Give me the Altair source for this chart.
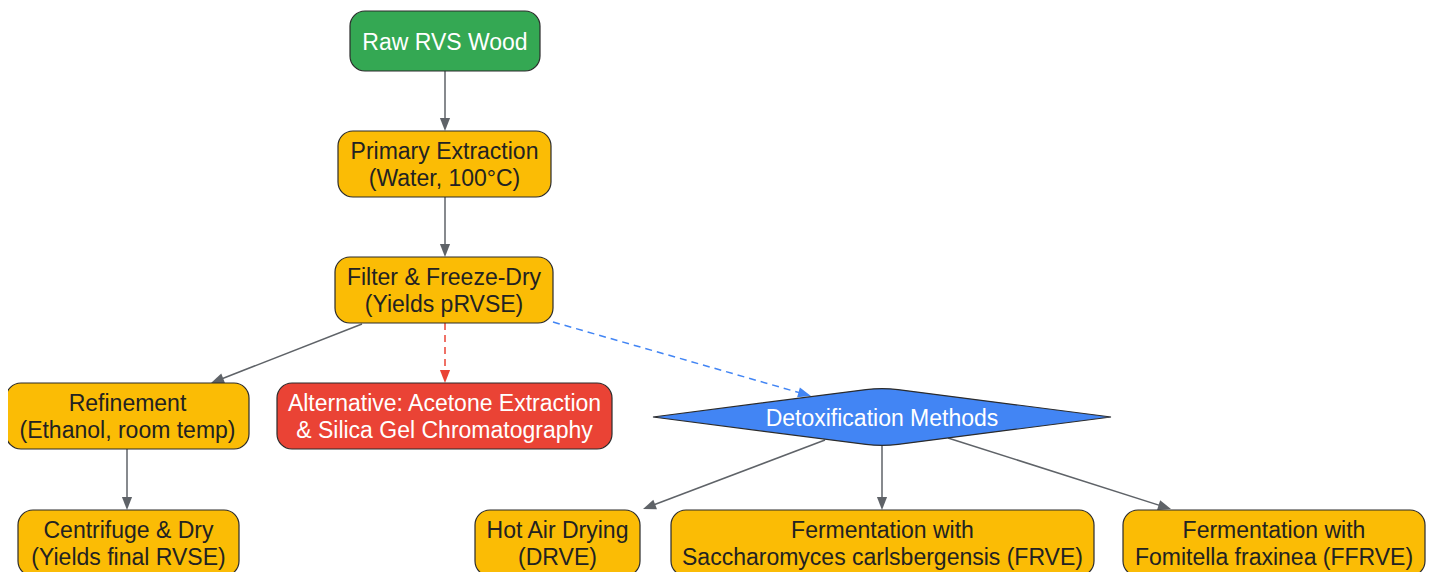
import math
import altair as alt
import pandas as pd

# ---------------- data ----------------
node_labels = [
    "Raw RVS Wood",
    "Primary Extraction\n(Water, 100°C)",
    "Filter & Freeze-Dry\n(Yields pRVSE)",
    "Refinement\n(Ethanol, room temp)",
    "Alternative: Acetone Extraction\n& Silica Gel Chromatography",
    "Centrifuge & Dry\n(Yields final RVSE)",
    "Hot Air Drying\n(DRVE)",
    "Fermentation with\nSaccharomyces carlsbergensis (FRVE)",
    "Fermentation with\nFomitella fraxinea (FFRVE)",
]
node_kind = ["start", "step", "step", "step", "alt", "step", "step", "step", "step"]
node_left = [350, 338, 335, 6, 277, 18, 475, 671, 1123]
node_right = [540, 551, 553, 249, 612, 239, 640, 1094, 1425]
node_top = [11, 131, 257, 383, 383, 510, 510, 510, 510]
node_bottom = [71, 197, 323, 449, 449, 576, 576, 576, 576]

decision_label = ["Detoxification Methods"]
decision_cx = [882]
decision_cy = [417]

edge_x1 = [445, 445, 362, 445, 553, 127, 825, 882, 948]
edge_y1 = [71, 197, 324, 323, 322, 449, 440, 446, 438]
edge_x2 = [445, 445, 211, 445, 811, 127, 643, 882, 1171]
edge_y2 = [131, 257, 383, 383, 396, 510, 509, 510, 509]
edge_kind = ["main", "main", "main", "alt", "detox", "main", "main", "main", "main"]

# ---------------- styles ----------------
FILL = {"start": "#34A853", "step": "#FBBC05", "alt": "#EA4335", "decision": "#4285F4"}
TEXT = {"start": "#ffffff", "step": "#222222", "alt": "#ffffff", "decision": "#ffffff"}
EDGE = {"main": "#5f6368", "alt": "#EA4335", "detox": "#4285F4"}
FONT = "Liberation Sans"
FS = 23
LH = 26.5
ARROW_R = 6.5  # half length of arrow head in px

nodes = pd.DataFrame({
    "label": node_labels, "kind": node_kind,
    "x1": node_left, "x2": node_right, "y1": node_top, "y2": node_bottom,
})
nodes["cx"] = (nodes.x1 + nodes.x2) / 2
nodes["cy"] = (nodes.y1 + nodes.y2) / 2
nodes["nl"] = nodes.label.str.count("\n") + 1
nodes["ty"] = nodes.cy + 1.5 - (nodes.nl - 1) * LH / 2

dec = pd.DataFrame({"label": decision_label, "cx": decision_cx, "cy": decision_cy})
dec["ty"] = dec.cy + 1.5

rows = []
for x1, y1, x2, y2, k in zip(edge_x1, edge_y1, edge_x2, edge_y2, edge_kind):
    dx, dy = x2 - x1, y2 - y1
    L = math.hypot(dx, dy)
    ux, uy = dx / L, dy / L
    ang = (math.degrees(math.atan2(dx, -dy)) + 360) % 360
    rows.append({
        "x1": x1, "y1": y1,
        "lx2": x2 - ux * ARROW_R * 1.6, "ly2": y2 - uy * ARROW_R * 1.6,
        "ax": x2 - ux * ARROW_R, "ay": y2 - uy * ARROW_R,
        "angle": ang, "kind": k,
    })
edges = pd.DataFrame(rows)

W, H = 1418, 564
xs = alt.Scale(domain=[8, 8 + W], nice=False, zero=False)
ys = alt.Scale(domain=[8, 8 + H], nice=False, zero=False, reverse=True)

fill_scale = alt.Scale(domain=list(FILL.keys()), range=list(FILL.values()))
text_scale = alt.Scale(domain=list(TEXT.keys()), range=list(TEXT.values()))
edge_scale = alt.Scale(domain=list(EDGE.keys()), range=list(EDGE.values()))

base_e = alt.Chart(edges)
lines_main = base_e.transform_filter(alt.datum.kind == "main").mark_rule(strokeWidth=1.5).encode(
    x=alt.X("x1:Q", scale=xs, axis=None), y=alt.Y("y1:Q", scale=ys, axis=None),
    x2="lx2:Q", y2="ly2:Q",
    color=alt.Color("kind:N", scale=edge_scale, legend=None),
)
lines_dash = base_e.transform_filter(alt.datum.kind != "main").mark_rule(strokeWidth=1.5, strokeDash=[7, 5]).encode(
    x=alt.X("x1:Q", scale=xs, axis=None), y=alt.Y("y1:Q", scale=ys, axis=None),
    x2="lx2:Q", y2="ly2:Q",
    color=alt.Color("kind:N", scale=edge_scale, legend=None),
)
arrows = base_e.mark_point(
    shape="M0,-1 L0.78,1 L-0.78,1 Z", filled=True, opacity=1, size=(2 * ARROW_R) ** 2,
).encode(
    x=alt.X("ax:Q", scale=xs, axis=None), y=alt.Y("ay:Q", scale=ys, axis=None),
    angle=alt.Angle("angle:Q", scale=None),
    color=alt.Color("kind:N", scale=edge_scale, legend=None),
)

boxes = alt.Chart(nodes).mark_rect(cornerRadius=15, stroke="#2b2b2b", strokeWidth=1.2).encode(
    x=alt.X("x1:Q", scale=xs, axis=None), x2="x2:Q",
    y=alt.Y("y1:Q", scale=ys, axis=None), y2="y2:Q",
    fill=alt.Fill("kind:N", scale=fill_scale, legend=None),
)
box_text = alt.Chart(nodes).mark_text(
    font=FONT, fontSize=FS, lineBreak="\n", lineHeight=LH, align="center", baseline="middle",
).encode(
    x=alt.X("cx:Q", scale=xs, axis=None), y=alt.Y("ty:Q", scale=ys, axis=None),
    text="label:N",
    color=alt.Color("kind:N", scale=text_scale, legend=None),
)

DR = 229
hy = 29.5 / DR
diamond_path = (
    f"M-1,0 L-0.07,{-hy*0.93:.4f} Q0,{-hy:.4f} 0.07,{-hy*0.93:.4f} L1,0 "
    f"L0.07,{hy*0.93:.4f} Q0,{hy:.4f} -0.07,{hy*0.93:.4f} Z"
)
diamond = alt.Chart(dec).mark_point(
    shape=diamond_path, filled=True, opacity=1, size=(2 * DR) ** 2,
    stroke="#2b2b2b", strokeWidth=1.2, fill="#4285F4",
).encode(
    x=alt.X("cx:Q", scale=xs, axis=None), y=alt.Y("cy:Q", scale=ys, axis=None),
)
dec_text = alt.Chart(dec).mark_text(
    font=FONT, fontSize=FS, align="center", baseline="middle", color="#ffffff",
).encode(
    x=alt.X("cx:Q", scale=xs, axis=None), y=alt.Y("ty:Q", scale=ys, axis=None),
    text="label:N",
)

chart = alt.layer(lines_main, lines_dash, arrows, boxes, box_text, diamond, dec_text).resolve_scale(
    color="independent"
).properties(
    width=W, height=H, autosize=alt.AutoSizeParams(type="none"), padding=0, background="white",
).configure_view(strokeWidth=0, stroke="transparent")

chart.save("out.html", embed_options={"renderer": "svg", "actions": False})
